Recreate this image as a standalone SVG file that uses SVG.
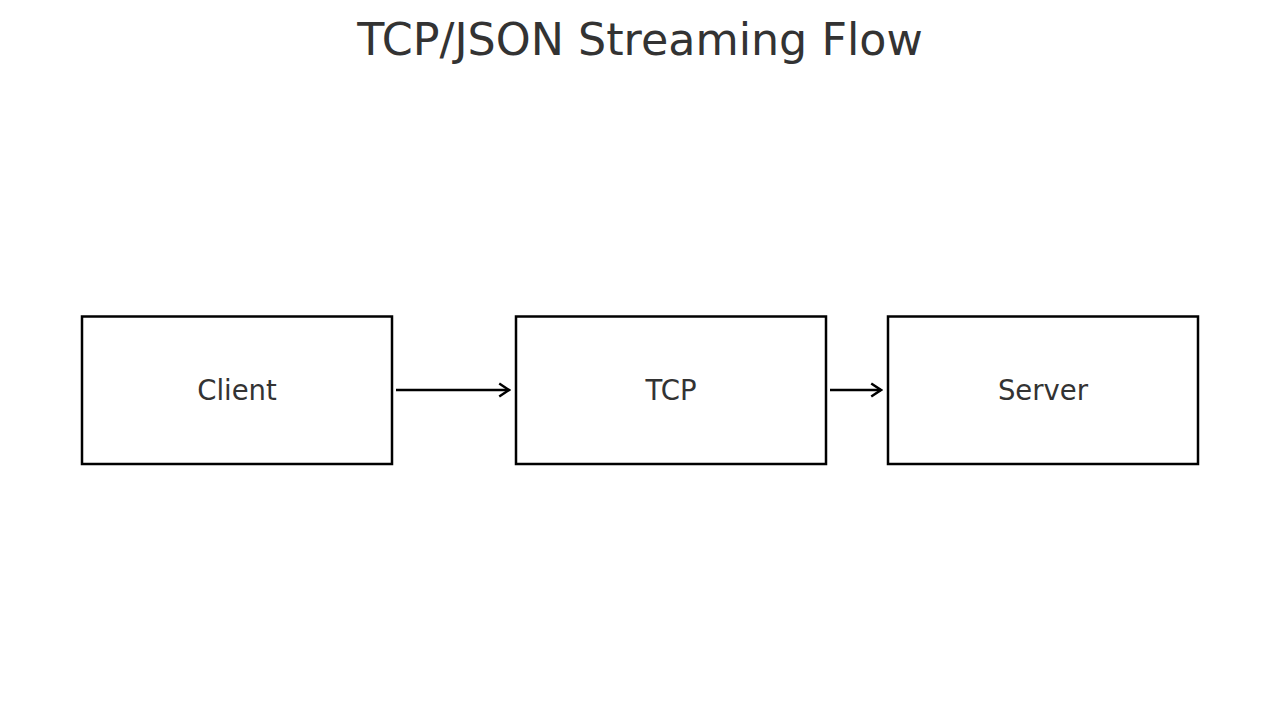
<svg xmlns="http://www.w3.org/2000/svg" width="1280" height="706" viewBox="0 0 1280 706">
<style>
.box{fill:#fff;stroke:#000;stroke-width:2.5}
.lbl{font-family:"DejaVu Sans",sans-serif;font-size:27.5px;fill:#333;text-anchor:middle;dominant-baseline:central}
.title{font-family:"DejaVu Sans",sans-serif;font-size:44.4px;fill:#333;text-anchor:middle}
.edge{stroke:#000;stroke-width:2.5;fill:none}
</style>
<defs>
<marker id="arr" viewBox="0 0 10 10" refX="9" refY="5" markerWidth="6.5" markerHeight="6.5" markerUnits="strokeWidth" orient="auto">
<path d="M3,1 L9,5 L3,9" fill="none" stroke="#000" stroke-width="1.5"/>
</marker>
</defs>
<rect width="1280" height="706" fill="#fff"/>
<text class="title" x="640" y="55">TCP/JSON Streaming Flow</text>
<g id="client"><rect class="box" x="82" y="316.5" width="310" height="147.5"/><text class="lbl" x="237" y="390">Client</text></g>
<g id="tcp"><rect class="box" x="516" y="316.5" width="310" height="147.5"/><text class="lbl" x="671" y="390">TCP</text></g>
<g id="server"><rect class="box" x="888" y="316.5" width="310" height="147.5"/><text class="lbl" x="1043" y="390">Server</text></g>
<g id="connectors">
<line class="edge" x1="396" y1="390" x2="509" y2="390" marker-end="url(#arr)"/>
<line class="edge" x1="830" y1="390" x2="881" y2="390" marker-end="url(#arr)"/>
</g>
</svg>
